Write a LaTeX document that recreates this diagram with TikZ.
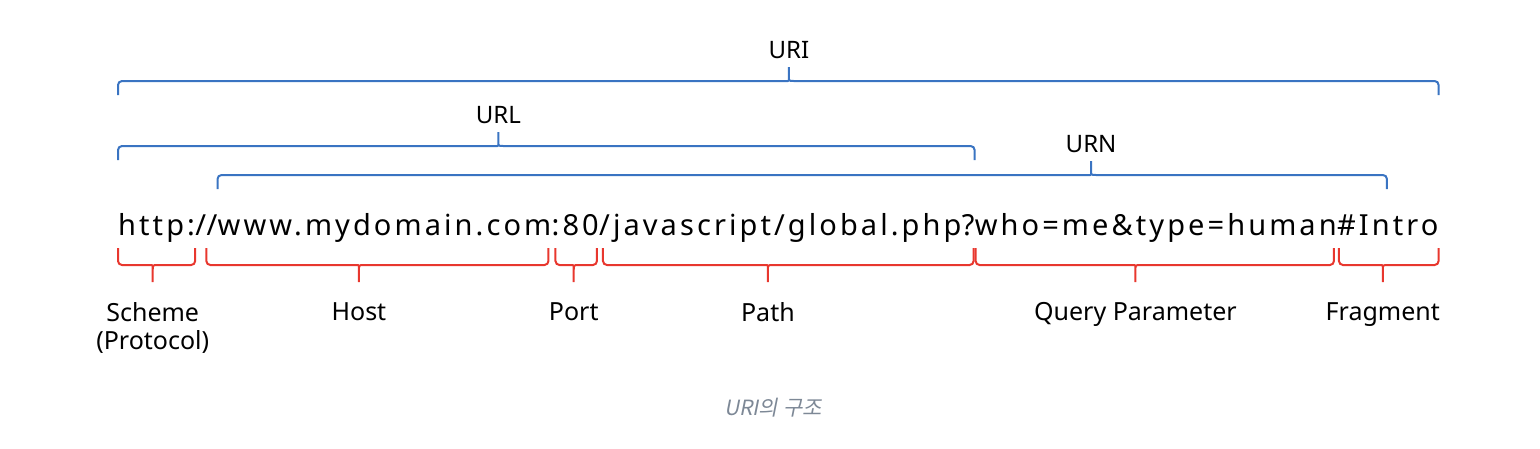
\documentclass[tikz,border=0pt]{standalone}
\usepackage{fontspec}
\setmainfont{Noto Sans}
\newfontfamily\urlfont[LetterSpace=10.6]{Noto Sans}
\newfontfamily\capfont[FakeSlant=0.2]{Noto Sans CJK KR}
\usetikzlibrary{calc,positioning}

\definecolor{uriblue}{HTML}{3A74C2}
\definecolor{partred}{HTML}{E8372E}
\definecolor{capgray}{HTML}{7D8896}

\tikzset{
  urlpart/.style={inner sep=0pt, anchor=base west, font=\urlfont\fontsize{29}{34}\selectfont},
  bluebrace/.style={draw=uriblue, line width=2pt},
  redbrace/.style={draw=partred, line width=2pt},
  kindlabel/.style={inner sep=0pt, above=8pt of #1, font=\fontsize{24}{28}\selectfont},
  partlabel/.style={inner sep=0pt, below=20pt of #1, align=center, font=\fontsize{25}{28}\selectfont},
  caption/.style={inner sep=0pt, text=capgray, font=\capfont\fontsize{21}{24}\selectfont}
}

% #1 style, #2 left end, #3 right end, #4 tip name, #5 height (+ up, - down), #6 where the tip sits
\newcommand{\partbrace}[6]{%
  \path ($(#2)!#6!(#3)$) coordinate (#4-m) ++(0,#5) coordinate (#4);
  \draw[#1] ($(#2)+(0,{-1*(#5)})$) [rounded corners=4pt] -- (#2) -- ($(#4-m)+(-5,0)$)
    [sharp corners] .. controls (#4-m) .. ($(#4-m)!0.3!(#4)$) -- (#4) -- ($(#4-m)!0.3!(#4)$)
    .. controls (#4-m) .. ($(#4-m)+(5,0)$) [rounded corners=4pt] -- (#3) -- ($(#3)+(0,{-1*(#5)})$);
}

\begin{document}
\begin{tikzpicture}[x=1pt, y=1pt]
  \useasboundingbox (0,0) rectangle (1540,-448);

  % the address, piece by piece
  \node[urlpart] (scheme) at (118,-235) {http:};
  \node[urlpart] (sl1) at (scheme.base east) {/};
  \node[urlpart] (sl2) at (sl1.base east) {/};
  \node[urlpart] (host) at (sl2.base east) {www.mydomain.com};
  \node[urlpart] (port) at (host.base east) {:80};
  \node[urlpart] (path) at (port.base east) {/javascript/global.php};
  \node[urlpart] (qmark) at (path.base east) {?};
  \node[urlpart] (query) at (qmark.base east) {who=me\&type=human};
  \node[urlpart] (frag) at (query.base east) {\#Intro};

  % blue braces above
  \path (scheme.west |- 0,-81) coordinate (uriL) (frag.east |- 0,-81) coordinate (uriR);
  \path (scheme.west |- 0,-146) coordinate (urlL) (qmark.east |- 0,-146) coordinate (urlR);
  \path (host.west |- 0,-175) coordinate (urnL) (frag.west |- 0,-175) ++(50,0) coordinate (urnR);
  \partbrace{bluebrace}{uriL}{uriR}{uritip}{14}{0.508}
  \partbrace{bluebrace}{urlL}{urlR}{urltip}{14}{0.444}
  \partbrace{bluebrace}{urnL}{urnR}{urntip}{14}{0.747}
  \node[kindlabel=uritip] (uri) {URI};
  \node[kindlabel=urltip] (url) {URL};
  \node[kindlabel=urntip] (urn) {URN};

  % red braces below
  \path (scheme.west |- 0,-265) coordinate (schemeL) (scheme.east |- 0,-265) coordinate (schemeR);
  \path (sl2.west |- 0,-265) coordinate (hostL) (host.east |- 0,-265) ++(-3,0) coordinate (hostR);
  \path (port.west |- 0,-265) ++(4,0) coordinate (portL) (port.east |- 0,-265) ++(-2,0) coordinate (portR);
  \path (path.west |- 0,-265) ++(4,0) coordinate (pathL) (qmark.east |- 0,-265) ++(-1,0) coordinate (pathR);
  \path (query.west |- 0,-265) ++(1,0) coordinate (queryL) (query.east |- 0,-265) ++(-3,0) coordinate (queryR);
  \path (frag.west |- 0,-265) ++(2,0) coordinate (fragL) (frag.east |- 0,-265) coordinate (fragR);
  \partbrace{redbrace}{schemeL}{schemeR}{schemetip}{-17}{0.45}
  \partbrace{redbrace}{hostL}{hostR}{hosttip}{-17}{0.446}
  \partbrace{redbrace}{portL}{portR}{porttip}{-17}{0.44}
  \partbrace{redbrace}{pathL}{pathR}{pathtip}{-17}{0.445}
  \partbrace{redbrace}{queryL}{queryR}{querytip}{-17}{0.446}
  \partbrace{redbrace}{fragL}{fragR}{fragtip}{-17}{0.44}
  \node[partlabel=schemetip] (schemelbl) {Scheme\\(Protocol)};
  \node[partlabel=hosttip] (hostlbl) {Host};
  \node[partlabel=porttip] (portlbl) {Port};
  \node[partlabel=pathtip] (pathlbl) {Path};
  \node[partlabel=querytip] (querylbl) {Query Parameter};
  \node[partlabel=fragtip] (fraglbl) {Fragment};

  \node[caption] (title) at (773,-408) {URI의 구조};
\end{tikzpicture}
\end{document}
